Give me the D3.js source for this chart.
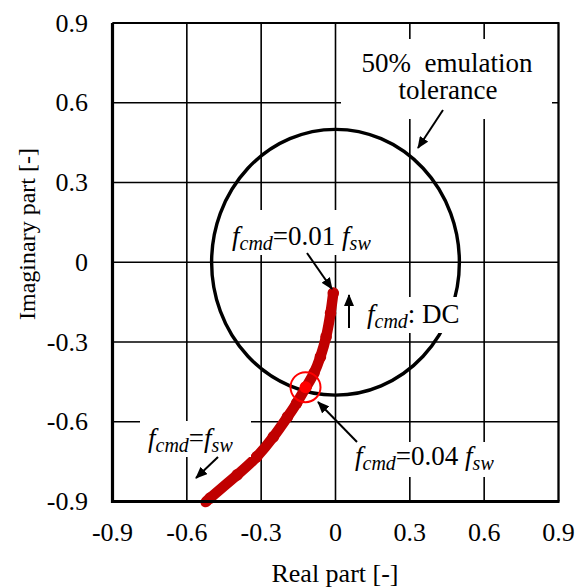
<!DOCTYPE html>
<html>
<head>
<meta charset="utf-8">
<script src="https://cdn.jsdelivr.net/npm/d3@7"></script>
<style>
  body { margin: 0; background: #fff; }
  text { font-family: "Liberation Serif", "Times New Roman", serif; fill: #000; }
</style>
</head>
<body>
<div id="chart"></div>
<script>
// Axis ticks
const xTicks = [-0.9, -0.6, -0.3, 0, 0.3, 0.6, 0.9];
const yTicks = [-0.9, -0.6, -0.3, 0, 0.3, 0.6, 0.9];

// Emulation tolerance radius
const toleranceRadius = 0.5;

// Trajectory from f_cmd = DC (top) to f_cmd = f_sw (bottom)
const realPart = [-0.009, -0.020, -0.038, -0.061, -0.087, -0.119, -0.157, -0.194, -0.251, -0.318, -0.397, -0.506, -0.52];
const imagPart = [-0.116, -0.191, -0.281, -0.356, -0.417, -0.470, -0.530, -0.582, -0.657, -0.732, -0.800, -0.887, -0.90];

// Highlighted point at f_cmd = 0.04 f_sw
const markReal = [-0.121];
const markImag = [-0.470];

const colors = {
  curve: "#C00000",
  mark: "#FF0000",
  black: "#000",
};

const width = 585,
  height = 588;
const margin = { top: 23, right: 26.5, bottom: 86.5, left: 112.5 };

const svg = d3
  .select("#chart")
  .append("svg")
  .attr("width", width)
  .attr("height", height);

const x = d3.scaleLinear().domain([-0.9, 0.9]).range([margin.left, width - margin.right]);
const y = d3.scaleLinear().domain([-0.9, 0.9]).range([height - margin.bottom, margin.top]);

// Grid
const grid = svg.append("g").attr("stroke", colors.black).attr("stroke-width", 1.6);
grid
  .selectAll("line.v")
  .data(xTicks)
  .join("line")
  .attr("class", "v")
  .attr("x1", (d) => x(d))
  .attr("x2", (d) => x(d))
  .attr("y1", y(0.9))
  .attr("y2", y(-0.9));
grid
  .selectAll("line.h")
  .data(yTicks)
  .join("line")
  .attr("class", "h")
  .attr("x1", x(-0.9))
  .attr("x2", x(0.9))
  .attr("y1", (d) => y(d))
  .attr("y2", (d) => y(d));

// Tolerance circle
svg
  .append("ellipse")
  .attr("cx", x(0))
  .attr("cy", y(0))
  .attr("rx", x(toleranceRadius) - x(0))
  .attr("ry", y(0) - y(toleranceRadius))
  .attr("fill", "none")
  .attr("stroke", colors.black)
  .attr("stroke-width", 3.4);

// Trajectory
const pts = realPart.map((r, i) => [r, imagPart[i]]);
const line = d3
  .line()
  .x((d) => x(d[0]))
  .y((d) => y(d[1]))
  .curve(d3.curveNatural);

svg
  .append("path")
  .datum(pts)
  .attr("d", line)
  .attr("fill", "none")
  .attr("stroke", colors.curve)
  .attr("stroke-width", 10.5)
  .attr("stroke-linecap", "round");

svg
  .append("g")
  .selectAll("circle")
  .data(pts.slice(0, -1))
  .join("circle")
  .attr("cx", (d) => x(d[0]))
  .attr("cy", (d) => y(d[1]))
  .attr("r", 5.8)
  .attr("fill", colors.curve);

// Highlighted point
const mark = markReal.map((r, i) => [r, markImag[i]]);
svg
  .append("g")
  .selectAll("circle")
  .data(mark)
  .join("circle")
  .attr("cx", (d) => x(d[0]))
  .attr("cy", (d) => y(d[1]))
  .attr("r", 6)
  .attr("fill", colors.mark);
svg
  .append("g")
  .selectAll("circle")
  .data(mark)
  .join("circle")
  .attr("cx", (d) => x(d[0]))
  .attr("cy", (d) => y(d[1]))
  .attr("r", 15)
  .attr("fill", "none")
  .attr("stroke", colors.mark)
  .attr("stroke-width", 2);

// Label backgrounds (white, they hide the grid)
const boxes = [
  [341, 39, 211, 80],
  [225, 210, 155, 45],
  [365, 297, 110, 36],
  [355, 442, 150, 35],
  [140, 421, 111, 36],
];
svg
  .append("g")
  .selectAll("rect")
  .data(boxes)
  .join("rect")
  .attr("x", (d) => d[0])
  .attr("y", (d) => d[1])
  .attr("width", (d) => d[2])
  .attr("height", (d) => d[3])
  .attr("fill", "#fff");

// Annotations
const labelSize = 27,
  subSize = 20;

function fLabel(x0, y0, parts) {
  const t = svg
    .append("text")
    .attr("x", x0)
    .attr("y", y0)
    .attr("font-size", labelSize)
    .style("white-space", "pre");
  let shifted = false;
  parts.forEach(([txt, kind]) => {
    const ts = t.append("tspan").text(txt);
    if (kind === "f") ts.attr("font-style", "italic");
    if (kind === "sub") {
      ts.attr("font-style", "italic").attr("font-size", subSize).attr("dy", shifted ? 0 : 5);
      shifted = true;
    } else if (shifted) {
      ts.attr("dy", -5);
      shifted = false;
    }
  });
  return t;
}

fLabel(232, 245, [["f", "f"], ["cmd", "sub"], ["=0.01 ", "n"], ["f", "f"], ["sw", "sub"]]);
fLabel(367, 323, [["f", "f"], ["cmd", "sub"], [": DC", "n"]]);
fLabel(355, 465, [["f", "f"], ["cmd", "sub"], ["=0.04 ", "n"], ["f", "f"], ["sw", "sub"]]);
fLabel(148, 447, [["f", "f"], ["cmd", "sub"], ["=", "n"], ["f", "f"], ["sw", "sub"]]);

svg
  .append("text")
  .attr("x", 447)
  .attr("y", 72)
  .attr("text-anchor", "middle")
  .attr("font-size", labelSize)
  .style("white-space", "pre")
  .text("50%  emulation");
svg
  .append("text")
  .attr("x", 448)
  .attr("y", 99)
  .attr("text-anchor", "middle")
  .attr("font-size", labelSize)
  .text("tolerance");

// Arrows
svg
  .append("defs")
  .append("marker")
  .attr("id", "head")
  .attr("viewBox", "0 0 12 10")
  .attr("refX", 11)
  .attr("refY", 5)
  .attr("markerWidth", 12)
  .attr("markerHeight", 10)
  .attr("markerUnits", "userSpaceOnUse")
  .attr("orient", "auto")
  .append("path")
  .attr("d", "M0,0L12,5L0,10Z")
  .attr("fill", colors.black);

const arrows = [
  [443, 110, 418, 148],
  [307, 253, 332, 289],
  [349, 328, 349, 295],
  [357, 442, 318, 402],
  [218, 457, 196, 478],
];
svg
  .append("g")
  .selectAll("line")
  .data(arrows)
  .join("line")
  .attr("x1", (d) => d[0])
  .attr("y1", (d) => d[1])
  .attr("x2", (d) => d[2])
  .attr("y2", (d) => d[3])
  .attr("stroke", colors.black)
  .attr("stroke-width", 2)
  .attr("marker-end", "url(#head)");

// Plot frame
svg
  .append("path")
  .attr("d", `M${x(-0.9)},${y(0.9)}H${x(0.9)}V${y(-0.9)}`)
  .attr("fill", "none")
  .attr("stroke", colors.black)
  .attr("stroke-width", 2);
svg
  .append("path")
  .attr("d", `M${x(-0.9)},${y(0.9)}V${y(-0.9)}H${x(0.9) + 1}`)
  .attr("fill", "none")
  .attr("stroke", colors.black)
  .attr("stroke-width", 3.2);

// Axes labels (hyphen-minus, as in the original)
const fmt = (d) => (d === 0 ? "0" : d.toFixed(1));
const tickSize = 26;

svg
  .append("g")
  .selectAll("text")
  .data(xTicks)
  .join("text")
  .attr("x", (d) => x(d))
  .attr("y", 541)
  .attr("text-anchor", "middle")
  .attr("font-size", tickSize)
  .text(fmt);

svg
  .append("g")
  .selectAll("text")
  .data(yTicks)
  .join("text")
  .attr("x", 88)
  .attr("y", (d) => y(d))
  .attr("dy", "0.33em")
  .attr("text-anchor", "end")
  .attr("font-size", tickSize)
  .text(fmt);

svg
  .append("text")
  .attr("x", 335)
  .attr("y", 582)
  .attr("text-anchor", "middle")
  .attr("font-size", tickSize)
  .text("Real part [-]");

svg
  .append("text")
  .attr("transform", "translate(35,234) rotate(-90)")
  .attr("text-anchor", "middle")
  .attr("font-size", 24)
  .text("Imaginary part [-]");
</script>
</body>
</html>
